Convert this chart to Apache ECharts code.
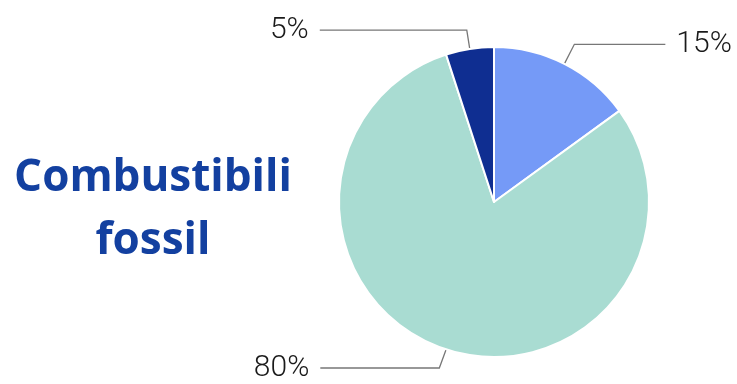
<!DOCTYPE html>
<html><head><meta charset="utf-8">
<script src="https://cdn.jsdelivr.net/npm/echarts@6/dist/echarts.min.js"></script>
<style>html,body{margin:0;padding:0;background:#fff}#c{width:737px;height:384px}</style>
</head><body><div id="c"></div>
<script>
const title = "Combustibili\nfossil";
const categories = ["A", "B", "C"];
const values = [15, 80, 5];
const colors = ["#759AF7", "#A9DCD2", "#0F2E91"];
const labelLen = [[22, 91], [22, 119], [19, 147]];

const chart = echarts.init(document.getElementById('c'));
chart.setOption({
  animation: false,
  title: {
    text: title, left: 148, top: 142, textAlign: 'center',
    textStyle: {fontFamily: '"Open Sans", sans-serif', fontWeight: 'bold', fontSize: 44, color: '#1340A0', lineHeight: 63}
  },
  series: [{
    type: 'pie', center: [494, 202], radius: 155, startAngle: 90, clockwise: true,
    itemStyle: {borderColor: '#fff', borderWidth: 2},
    label: {formatter: '{c}%', fontFamily: 'Roboto, sans-serif', fontWeight: 300, fontSize: 30, color: '#1a1a1a',
      distanceToLabelLine: 11, overflow: 'none', width: 80},
    labelLine: {lineStyle: {color: '#777', width: 1.3}},
    data: categories.map((n, i) => ({
      name: n, value: values[i], itemStyle: {color: colors[i]},
      labelLine: {length: labelLen[i][0], length2: labelLen[i][1]}
    }))
  }]
});
</script></body></html>
